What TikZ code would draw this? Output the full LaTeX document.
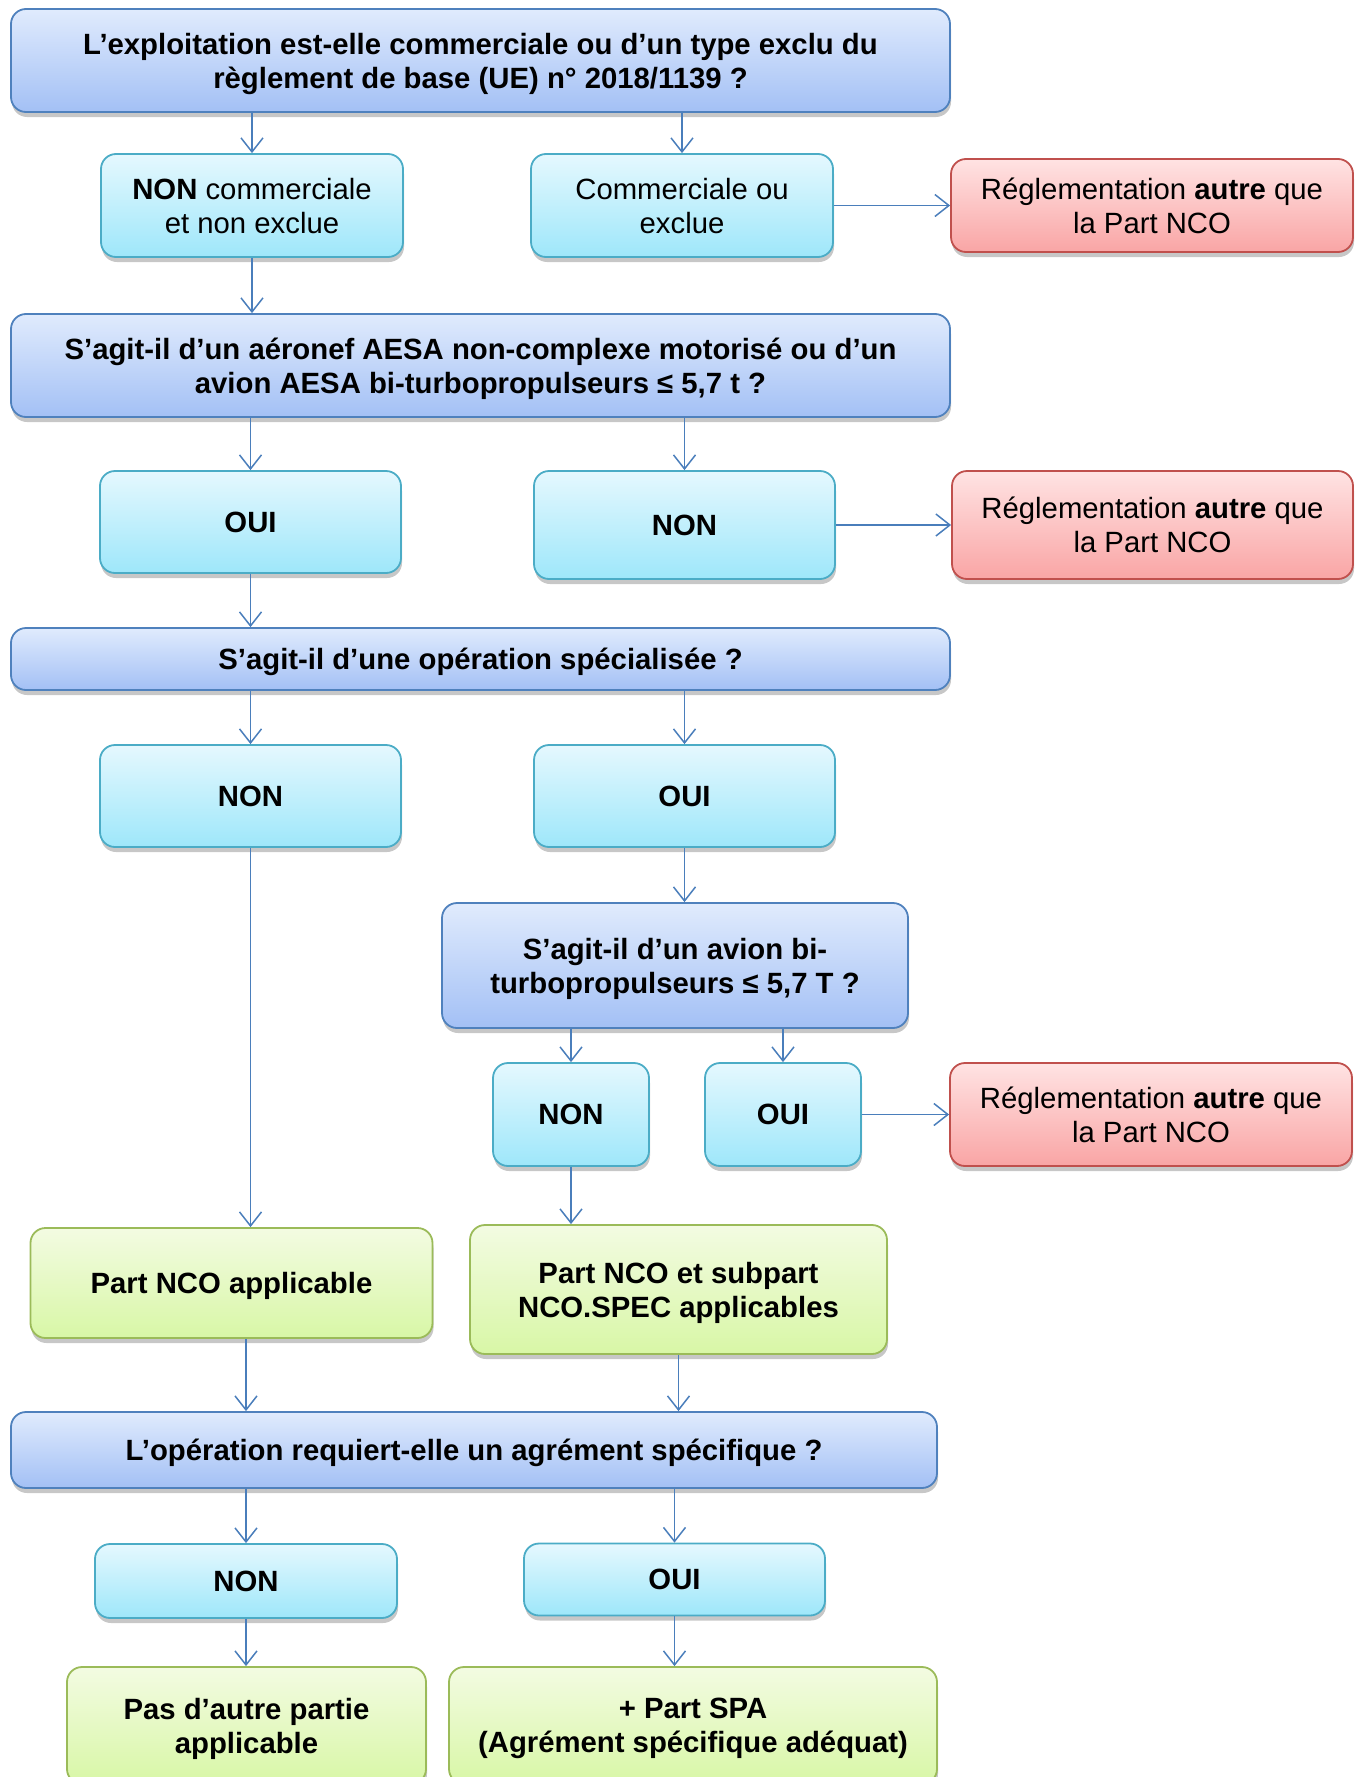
\documentclass[tikz,border=0pt]{standalone}
\usepackage{fontspec}
\setmainfont{Liberation Sans}
\usetikzlibrary{arrows.meta,shadows}
\definecolor{qtop}{HTML}{E0EBFD}
\definecolor{qbot}{HTML}{A3C0F5}
\definecolor{qdraw}{HTML}{4F81BD}
\definecolor{atop}{HTML}{E5F8FE}
\definecolor{abot}{HTML}{9EE7FA}
\definecolor{adraw}{HTML}{4BACC6}
\definecolor{rtop}{HTML}{FFE3E3}
\definecolor{rbot}{HTML}{F9A5A5}
\definecolor{rdraw}{HTML}{C0504D}
\definecolor{gtop}{HTML}{F3FBE2}
\definecolor{gbot}{HTML}{D8F7A6}
\definecolor{gdraw}{HTML}{9BBB59}
\definecolor{arrcol}{HTML}{4A7EBB}
\tikzset{
  boxbase/.style={rectangle, rounded corners=15pt, line width=1.8pt, align=center,
     inner sep=0pt, text depth=0pt, font=\fontsize{29.3}{34}\selectfont,
     drop shadow={shadow xshift=1pt, shadow yshift=-5pt, opacity=0.22, fill=black}},
  qbox/.style={boxbase, draw=qdraw, top color=qtop, bottom color=qbot},
  abox/.style={boxbase, draw=adraw, top color=atop, bottom color=abot},
  rbox/.style={boxbase, draw=rdraw, top color=rtop, bottom color=rbot},
  gbox/.style={boxbase, draw=gdraw, top color=gtop, bottom color=gbot},
  arr/.style={draw=arrcol, line width=1.7pt, -{Straight Barb[length=14pt,width=22pt,line width=1.5pt]}},
}
\begin{document}
\begin{tikzpicture}[x=1pt,y=-1pt]
\useasboundingbox (0,0) rectangle (1361,1777);
\clip (0,0) rectangle (1361,1777);
% boxes
\node[qbox, minimum width=939pt, minimum height=103pt] (q1) at (480.5,60.5)
  {\bfseries L’exploitation est-elle commerciale ou d’un type exclu du\\\bfseries règlement de base (UE) n° 2018/1139 ?};
\node[abox, minimum width=302pt, minimum height=103pt] (a1) at (252,205.5)
  {\textbf{NON} commerciale\\et non exclue};
\node[abox, minimum width=302pt, minimum height=103pt] (a2) at (682,205.5)
  {Commerciale ou\\exclue};
\node[rbox, minimum width=402pt, minimum height=93pt] (r1) at (1152,205.5)
  {Réglementation \textbf{autre} que\\la Part NCO};
\node[qbox, minimum width=939pt, minimum height=103pt] (q2) at (480.5,365.5)
  {\bfseries S’agit-il d’un aéronef AESA non-complexe motorisé ou d’un\\\bfseries avion AESA bi-turbopropulseurs ≤ 5,7 t ?};
\node[abox, minimum width=301pt, minimum height=102pt] (a3) at (250.5,522)
  {\bfseries OUI};
\node[abox, minimum width=301pt, minimum height=108pt] (a4) at (684.5,525)
  {\bfseries NON};
\node[rbox, minimum width=401pt, minimum height=108pt] (r2) at (1152.5,525)
  {Réglementation \textbf{autre} que\\la Part NCO};
\node[qbox, minimum width=939pt, minimum height=62pt] (q3) at (480.5,659)
  {\bfseries S’agit-il d’une opération spécialisée ?};
\node[abox, minimum width=301pt, minimum height=102pt] (a5) at (250.5,796)
  {\bfseries NON};
\node[abox, minimum width=301pt, minimum height=102pt] (a6) at (684.5,796)
  {\bfseries OUI};
\node[qbox, minimum width=466pt, minimum height=125pt] (q4) at (675,965.5)
  {\bfseries S’agit-il d’un avion bi-\\\bfseries turbopropulseurs ≤ 5,7 T ?};
\node[abox, minimum width=156pt, minimum height=103pt] (a7) at (571,1114.5)
  {\bfseries NON};
\node[abox, minimum width=156pt, minimum height=103pt] (a8) at (783,1114.5)
  {\bfseries OUI};
\node[rbox, minimum width=402pt, minimum height=103pt] (r3) at (1151,1114.5)
  {Réglementation \textbf{autre} que\\la Part NCO};
\node[gbox, minimum width=402pt, minimum height=110pt] (g1) at (231.5,1283)
  {\bfseries Part NCO applicable};
\node[gbox, minimum width=417pt, minimum height=129pt] (g2) at (678.5,1289.5)
  {\bfseries Part NCO et subpart\\\bfseries NCO.SPEC applicables};
\node[qbox, minimum width=926pt, minimum height=76pt] (q5) at (474,1450)
  {\bfseries L’opération requiert-elle un agrément spécifique ?};
\node[abox, minimum width=302pt, minimum height=74pt] (a9) at (246,1581)
  {\bfseries NON};
\node[abox, minimum width=301pt, minimum height=72pt] (a10) at (674.5,1579.5)
  {\bfseries OUI};
\node[gbox, minimum width=359pt, minimum height=117pt] (g3) at (246.5,1725.5)
  {\bfseries Pas d’autre partie\\\bfseries applicable};
\node[gbox, minimum width=488pt, minimum height=117pt] (g4) at (693,1725.5)
  {\bfseries + Part SPA\\\bfseries (Agrément spécifique adéquat)};
% connectors
\draw[arr] (q1.south -| a1.north) -- (a1.north);
\draw[arr] (q1.south -| a2.north) -- (a2.north);
\draw[arr] (a2.east) -- (r1.west |- a2.east);
\draw[arr] (a1.south) -- (a1.south |- q2.north);
\draw[arr] (q2.south -| a3.north) -- (a3.north);
\draw[arr] (q2.south -| a4.north) -- (a4.north);
\draw[arr] (a4.east) -- (r2.west |- a4.east);
\draw[arr] (a3.south) -- (a3.south |- q3.north);
\draw[arr] (q3.south -| a5.north) -- (a5.north);
\draw[arr] (q3.south -| a6.north) -- (a6.north);
\draw[arr] (a6.south) -- (a6.south |- q4.north);
\draw[arr] (q4.south -| a7.north) -- (a7.north);
\draw[arr] (q4.south -| a8.north) -- (a8.north);
\draw[arr] (a8.east) -- (r3.west |- a8.east);
\draw[arr] (a5.south) -- (a5.south |- g1.north);
\draw[arr] (a7.south) -- (a7.south |- g2.north);
\draw[arr] (g1.south -| a9.north) -- (a9.north |- q5.north);
\draw[arr] (g2.south) -- (g2.south |- q5.north);
\draw[arr] (q5.south -| a9.north) -- (a9.north);
\draw[arr] (q5.south -| a10.north) -- (a10.north);
\draw[arr] (a9.south) -- (a9.south |- g3.north);
\draw[arr] (a10.south) -- (a10.south |- g4.north);
\end{tikzpicture}
\end{document}
